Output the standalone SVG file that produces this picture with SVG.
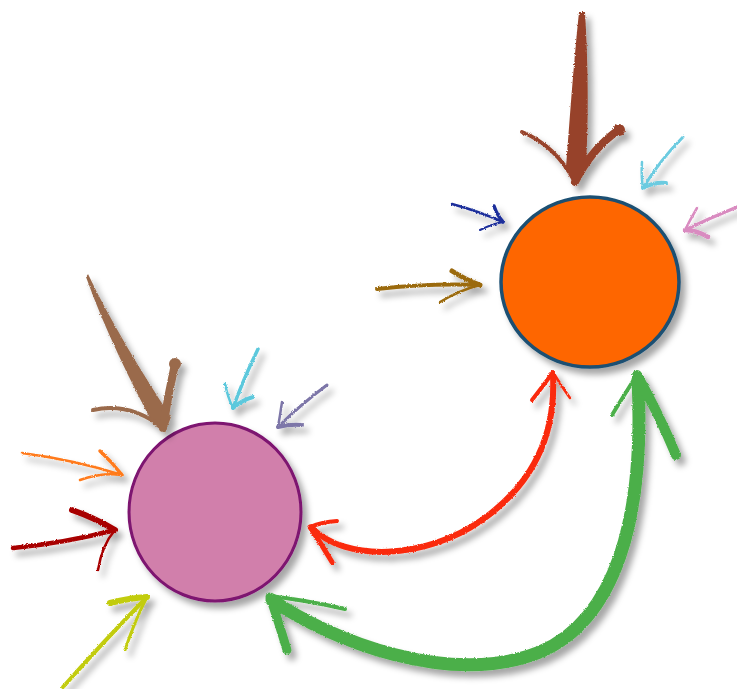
<svg xmlns="http://www.w3.org/2000/svg" width="737" height="689" viewBox="0 0 737 689">
<defs>
<filter id="sh" x="-20%" y="-20%" width="150%" height="150%">
<feDropShadow dx="5" dy="6" stdDeviation="3" flood-color="#000" flood-opacity="0.35"/>
</filter>
<filter id="rough" x="-20%" y="-20%" width="150%" height="150%">
<feTurbulence type="fractalNoise" baseFrequency="0.9" numOctaves="2" seed="3" result="n"/>
<feDisplacementMap in="SourceGraphic" in2="n" scale="2.5" xChannelSelector="R" yChannelSelector="G" result="d"/>
<feDropShadow in="d" dx="5" dy="6" stdDeviation="3" flood-color="#000" flood-opacity="0.35"/>
</filter>
<style>
.a{fill:none;stroke-linecap:round;stroke-linejoin:round}
</style>
</defs>
<rect width="737" height="689" fill="#fff"/>
<g id="node-pink" filter="url(#sh)">
<ellipse cx="215" cy="512" rx="86" ry="89" fill="#d17fab" stroke="#7d1270" stroke-width="3"/>
</g>
<g id="node-orange" filter="url(#sh)">
<ellipse cx="590" cy="282" rx="89" ry="85" fill="#fe6600" stroke="#1a4f72" stroke-width="3.5"/>
</g>
<g id="arrows-pink" filter="url(#rough)">
<g id="brown-arrow">
<path d="M88,274 C110,320 140,370 171,417 L165,433 L153,424 C130,380 105,330 86,277 Z" fill="#9a6a4c"/>
<path class="a" d="M93,410 Q130,402 163,428" stroke="#9a6a4c" stroke-width="4"/>
<path class="a" d="M175,364 Q168,395 163,428" stroke="#9a6a4c" stroke-width="8"/>
<circle cx="175" cy="364" r="6" fill="#9a6a4c"/>
</g>
<g id="cyan-arrow-1" class="a" stroke="#5bc8dc">
<path d="M258,349 Q243,380 233,408" stroke-width="3.5"/>
<path d="M225,384 Q228,398 233,408" stroke-width="2.5"/>
<path d="M253,397 Q242,400 233,408" stroke-width="4"/>
</g>
<g id="grey-arrow" class="a" stroke="#7d76a8">
<path d="M327,385 Q300,405 278,427" stroke-width="3"/>
<path d="M282,402 Q280,416 278,427" stroke-width="2.5"/>
<path d="M302,425 Q290,424 278,427" stroke-width="4"/>
</g>
<g id="orange-arrow" class="a" stroke="#ff7a1a">
<path d="M22,453 Q75,460 122,475" stroke-width="2.5"/>
<path d="M100,451 Q112,462 122,475" stroke-width="3.5"/>
<path d="M80,480 Q102,472 122,475" stroke-width="2.5"/>
</g>
<g id="darkred-arrow" class="a" stroke="#a80000">
<path d="M13,548 Q65,543 115,530" stroke-width="4.5"/>
<path d="M72,510 Q95,518 115,530" stroke-width="6"/>
<path d="M98,570 Q102,545 115,530" stroke-width="2.5"/>
</g>
<g id="yellow-arrow" class="a" stroke="#c2cc10">
<path d="M63,687 Q105,640 147,597" stroke-width="4"/>
<path d="M110,603 Q130,598 147,597" stroke-width="6"/>
<path d="M125,650 Q135,620 147,597" stroke-width="3"/>
</g>
</g>
<g id="arrows-orange" filter="url(#rough)">
<g id="rust-arrow">
<path d="M579,12 L585,12 C589,80 588,130 586,166 L575,186 L566,168 C569,130 573,70 579,12 Z" fill="#97432a"/>
<path class="a" d="M522,132 Q555,145 575,182" stroke="#97432a" stroke-width="4"/>
<path class="a" d="M620,129 Q592,148 575,182" stroke="#97432a" stroke-width="8"/>
<circle cx="619" cy="130" r="6" fill="#97432a"/>
</g>
<g id="cyan-arrow-2" class="a" stroke="#6ccbe0">
<path d="M683,137 Q660,160 643,188" stroke-width="3"/>
<path d="M642,162 Q641,176 643,188" stroke-width="2.5"/>
<path d="M666,183 Q654,182 643,188" stroke-width="4"/>
</g>
<g id="pink-arrow" class="a" stroke="#d98bc0">
<path d="M737,207 Q710,218 685,230" stroke-width="3.5"/>
<path d="M697,208 Q690,220 685,230" stroke-width="2.5"/>
<path d="M708,237 Q696,230 685,230" stroke-width="4.5"/>
</g>
<g id="navy-arrow" class="a" stroke="#1c2f9b">
<path d="M452,204 Q478,211 503,222" stroke-width="2.5"/>
<path d="M494,206 Q497,215 503,222" stroke-width="3.5"/>
<path d="M480,230 Q492,224 503,222" stroke-width="2"/>
</g>
<g id="gold-arrow" class="a" stroke="#9b6a10">
<path d="M377,289 Q430,283 480,285" stroke-width="4"/>
<path d="M452,271 Q466,280 480,285" stroke-width="5"/>
<path d="M440,302 Q460,290 480,285" stroke-width="2.5"/>
</g>
</g>
<g id="connectors" filter="url(#rough)">
<g id="red-connector" class="a" stroke="#fa2a10">
<path d="M312,528 C345,562 425,560 482,520 C530,486 556,440 553,376" stroke-width="6"/>
<path d="M532,400 Q544,385 553,372" stroke-width="4"/>
<path d="M570,398 Q560,384 553,372" stroke-width="2.5"/>
<path d="M337,521 Q322,522 310,527" stroke-width="4"/>
<path d="M332,562 Q322,545 310,527" stroke-width="5"/>
</g>
<g id="green-connector" class="a" stroke="#4caf4a">
<path d="M272,600 C330,640 450,688 540,652 C615,620 645,520 638,380" stroke-width="13"/>
<path d="M612,415 Q626,392 637,375" stroke-width="4"/>
<path d="M676,455 Q658,412 637,375" stroke-width="10"/>
<path d="M345,609 Q305,600 270,596" stroke-width="4"/>
<path d="M287,650 Q278,620 270,597" stroke-width="9"/>
</g>
</g>
</svg>
